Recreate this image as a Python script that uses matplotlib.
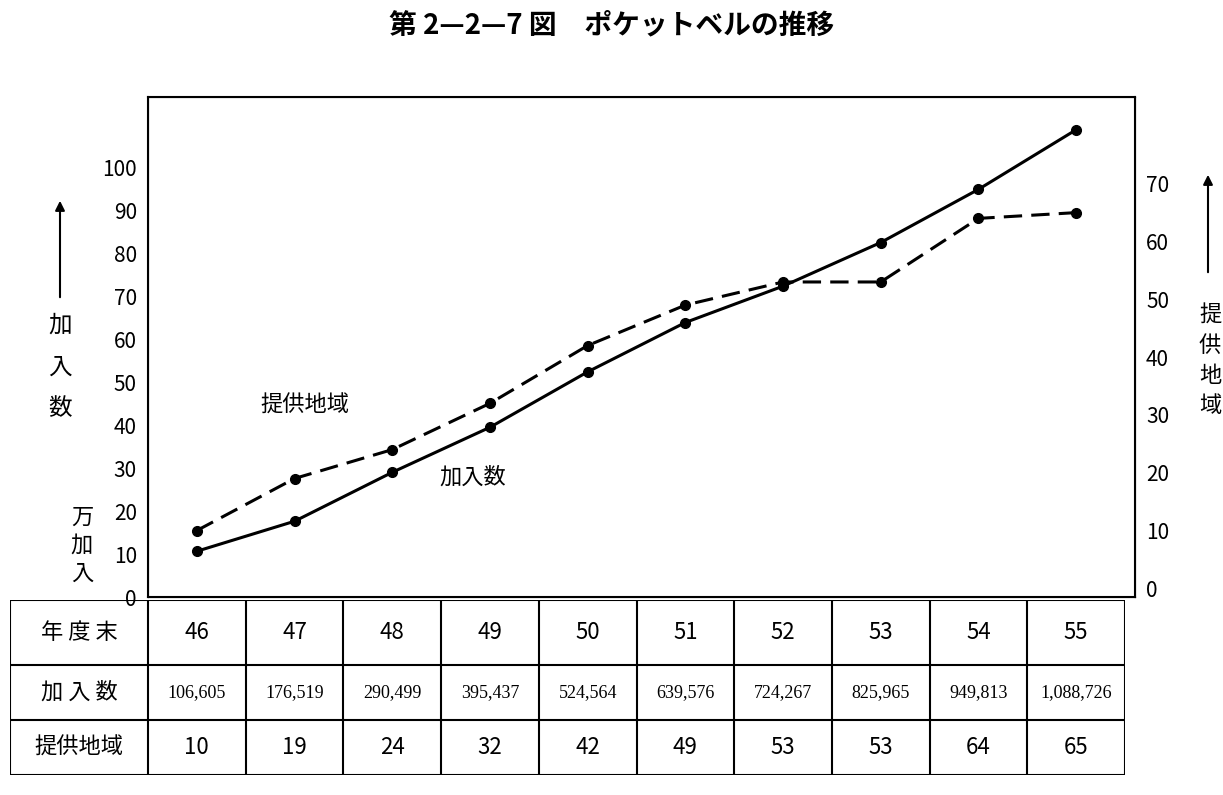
import matplotlib
matplotlib.use("Agg")
import matplotlib.pyplot as plt

plt.rcParams['font.family'] = ['Noto Sans CJK JP', 'DejaVu Sans']

years = ['46', '47', '48', '49', '50', '51', '52', '53', '54', '55']
subscribers = [106605, 176519, 290499, 395437, 524564, 639576, 724267, 825965, 949813, 1088726]
subscribers_label = ['106,605', '176,519', '290,499', '395,437', '524,564', '639,576', '724,267', '825,965', '949,813', '1,088,726']
regions = [10, 19, 24, 32, 42, 49, 53, 53, 64, 65]

W, H = 1223, 795
fig = plt.figure(figsize=(W/100, H/100), dpi=100)

def fx(px): return px / W
def fy(py): return 1 - py / H

# main plot
ax = fig.add_axes([fx(148), fy(597), fx(1135) - fx(148), fy(97) - fy(597)])
n = len(years)
xs = [i + 0.5 for i in range(n)]
ax.set_xlim(0, (1135 - 148) / ((1125 - 148) / n))
ax.set_ylim(0, 116.5)
ax.plot(xs, [v / 10000 for v in subscribers], '-', color='black', lw=2.2, marker='o', ms=7)
ax.set_xticks([])
ax.set_yticks(range(0, 101, 10))
ax.tick_params(axis='y', length=0, labelsize=15, pad=8)
for s in ax.spines.values():
    s.set_linewidth(1.5)

ax2 = ax.twinx()
ax2.set_ylim(-1.5, 85)
ax2.plot(xs, regions, '--', color='black', lw=2.2, marker='o', ms=7, dashes=(6, 3))
ax2.set_yticks(range(0, 71, 10))
ax2.tick_params(axis='y', length=0, labelsize=15, pad=8)

fig.text(fx(305), fy(405), '提供地域', fontsize=16, ha='center', va='center')
fig.text(fx(473), fy(477), '加入数', fontsize=16, ha='center', va='center')
fig.text(0.5, fy(25), '第 2—2—7 図　ポケットベルの推移', fontsize=20, fontweight='bold', ha='center', va='center')

# left label
fig.add_artist(matplotlib.patches.FancyArrowPatch((fx(60), fy(300)), (fx(60), fy(198)),
               transform=fig.transFigure, arrowstyle='-|>', mutation_scale=14, color='black', lw=1.5))
for i, ch in enumerate('加入数'):
    fig.text(fx(60), fy(325 + i * 42), ch, fontsize=17, ha='center', va='center')
for i, ch in enumerate('万加入'):
    fig.text(fx(82), fy(517 + i * 28), ch, fontsize=16, ha='center', va='center')
# right label
fig.add_artist(matplotlib.patches.FancyArrowPatch((fx(1208), fy(275)), (fx(1208), fy(172)),
               transform=fig.transFigure, arrowstyle='-|>', mutation_scale=14, color='black', lw=1.5))
for i, ch in enumerate('提供地域'):
    fig.text(fx(1210), fy(315 + i * 30), ch, fontsize=16, ha='center', va='center')

# table
tb = fig.add_axes([fx(10), fy(775), fx(1125) - fx(10), fy(600) - fy(775)])
tb.set_xlim(10, 1125)
tb.set_ylim(775, 600)
tb.axis('off')
rows_y = [600, 665, 720, 775]
colx = [10] + [148 + i * (1125 - 148) / n for i in range(n + 1)]
for y in rows_y:
    tb.plot([10, 1125], [y, y], color='black', lw=1.5)
for x in colx:
    tb.plot([x, x], [600, 775], color='black', lw=1.5)
labels = ['年 度 末', '加 入 数', '提供地域']
rowdata = [years, subscribers_label, [str(r) for r in regions]]
sizes = [16, 13, 16]
for r in range(3):
    yc = (rows_y[r] + rows_y[r + 1]) / 2
    tb.text((10 + 148) / 2, yc, labels[r], fontsize=16, ha='center', va='center')
    for c in range(n):
        tb.text((colx[c + 1] + colx[c + 2]) / 2, yc, rowdata[r][c], fontsize=sizes[r],
                ha='center', va='center', family=['Liberation Serif'] if r == 1 else None)

fig.savefig('out.png', dpi=100, facecolor='white')
